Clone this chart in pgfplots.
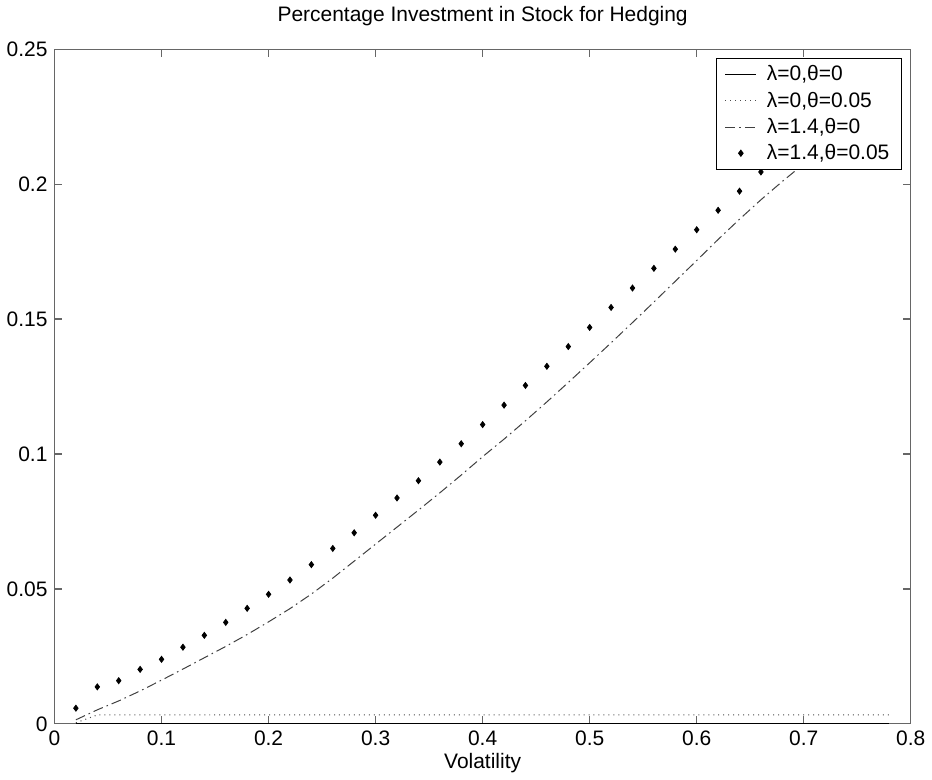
\documentclass[border=0pt]{standalone}
\usepackage{fontspec}
\setmainfont{Liberation Sans}
\usepackage{pgfplots}
\pgfplotsset{compat=1.18}
\pgfplotsset{
  shortline legend/.style={legend image code/.code={\draw[##1] (0cm,0cm) -- (0.55cm,0cm);}},
  dot legend/.style={legend image code/.code={\draw[##1] plot coordinates {(0.275cm,0cm)};}},
}
\begin{document}
\begin{tikzpicture}
\begin{axis}[
  scale only axis,
  width=429pt, height=338pt,
  xmin=0, xmax=0.8, ymin=0, ymax=0.25,
  xtick={0,0.1,...,0.8},
  ytick={0,0.05,0.1,0.15,0.2,0.25},
  /pgf/number format/assume math mode=true,
  /pgf/number format/fixed,
  /pgf/number format/precision=2,
  scaled x ticks=false, scaled y ticks=false,
  tick align=inside,
  major tick length=4pt,
  axis line style={black!60, line width=0.6pt},
  every tick/.style={black!60, line width=0.6pt},
  tick label style={font=\fontsize{10.5}{12}\selectfont},
  label style={font=\fontsize{10.5}{12}\selectfont},
  title style={font=\fontsize{10.5}{12}\selectfont, yshift=2pt},
  title={Percentage Investment in Stock for Hedging},
  xlabel={Volatility},
  xlabel style={yshift=3pt},
  legend cell align=left,
  legend style={at={(0.9895,0.9867)}, anchor=north east, draw=black, line width=0.5pt,
    font=\fontsize{10.5}{12}\selectfont, row sep=0pt, column sep=3pt,
    inner xsep=4pt, inner ysep=1.5pt},
]
\addplot[black, line width=0.5pt, shortline legend] coordinates {(0.02,0) (0.78,0)};
\addlegendentry{λ=0,θ=0}
\addplot[black!70, dotted, line width=0.5pt, shortline legend] coordinates {(0.02,0.0004) (0.04,0.0033) (0.78,0.0033)};
\addlegendentry{λ=0,θ=0.05}
\addplot[black!75, dash pattern=on 5pt off 2pt on 0.8pt off 2pt, line width=0.5pt, shortline legend] coordinates {
(0.02,0.0015) (0.04,0.0052) (0.06,0.0085) (0.08,0.0122) (0.10,0.0162)
(0.12,0.0203) (0.14,0.0245) (0.16,0.0287) (0.18,0.0331) (0.20,0.0378)
(0.22,0.0427) (0.24,0.0481) (0.26,0.0540) (0.28,0.0603) (0.30,0.0666)
(0.32,0.0729) (0.34,0.0792) (0.36,0.0856) (0.38,0.0922) (0.40,0.0990)
(0.42,0.1055) (0.44,0.1123) (0.46,0.1193) (0.48,0.1265) (0.50,0.1338)
(0.52,0.1412) (0.54,0.1487) (0.56,0.1563) (0.58,0.1640) (0.60,0.1717)
(0.62,0.1795) (0.64,0.1870) (0.66,0.1942) (0.68,0.2010) (0.70,0.2075)
(0.72,0.2138) (0.74,0.2200) (0.76,0.2260) (0.78,0.2320)};
\addlegendentry{λ=1.4,θ=0}
\addplot[black, only marks, mark=diamond*, mark size=1.5pt, dot legend] coordinates {
(0.02,0.0058) (0.04,0.0137) (0.06,0.0160) (0.08,0.0202) (0.10,0.0239)
(0.12,0.0284) (0.14,0.0328) (0.16,0.0376) (0.18,0.0428) (0.20,0.0480)
(0.22,0.0533) (0.24,0.0590) (0.26,0.0650) (0.28,0.0708) (0.30,0.0773)
(0.32,0.0837) (0.34,0.0901) (0.36,0.0970) (0.38,0.1038) (0.40,0.1109)
(0.42,0.1181) (0.44,0.1254) (0.46,0.1325) (0.48,0.1398) (0.50,0.1469)
(0.52,0.1543) (0.54,0.1615) (0.56,0.1688) (0.58,0.1759) (0.60,0.1831)
(0.62,0.1903) (0.64,0.1974) (0.66,0.2045) (0.68,0.2117) (0.70,0.2189)
(0.72,0.2261) (0.74,0.2333)};
\addlegendentry{λ=1.4,θ=0.05}
\end{axis}
\end{tikzpicture}
\end{document}
